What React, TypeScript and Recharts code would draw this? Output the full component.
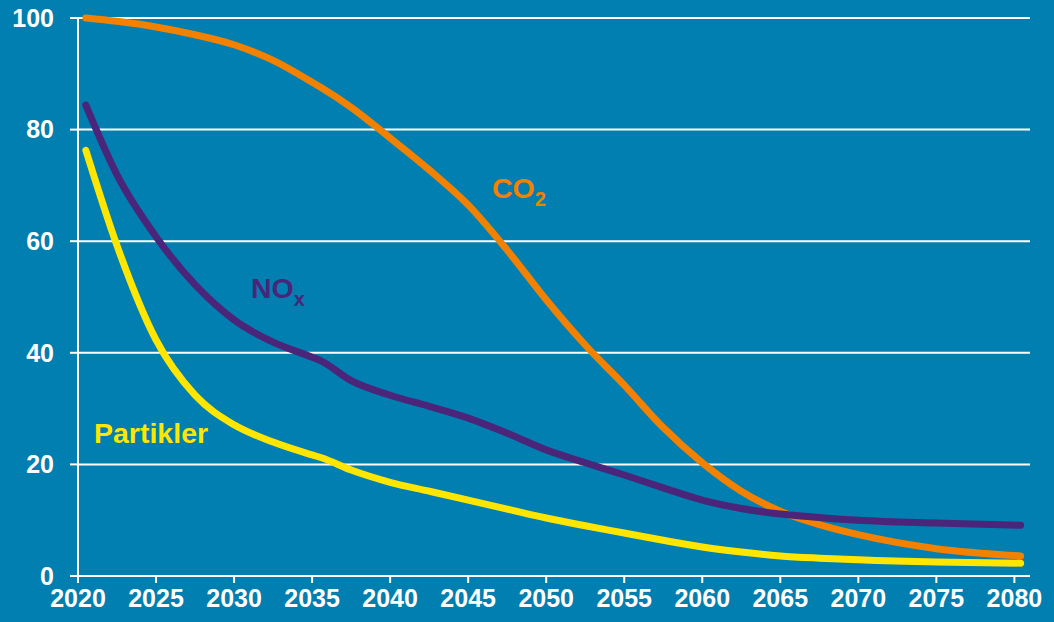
import { LineChart, Line, XAxis, YAxis, CartesianGrid } from "recharts"

const years = [2020.5, 2022.5, 2025, 2027.5, 2030, 2032.5, 2035, 2035.6, 2037.5, 2040, 2042.5, 2045, 2047.5, 2050, 2052.5, 2055, 2057.5, 2060, 2062.5, 2065, 2067.5, 2070, 2075, 2080.4]
const co2 = [100, 99.4, 98.4, 97, 95.2, 92.4, 88.5, 87.5, 84, 78.5, 72.8, 66.5, 58.4, 49.5, 41.4, 34.2, 26.6, 20.3, 15.2, 11.6, 9.2, 7.4, 4.9, 3.6]
const nox = [84.4, 71.9, 60.8, 52.2, 45.9, 41.9, 39.2, 38.5, 35, 32.4, 30.4, 28.3, 25.6, 22.6, 20.3, 18.1, 15.8, 13.6, 12.1, 11.1, 10.5, 10.0, 9.5, 9.1]
const partikler = [76.3, 59.2, 42.3, 32.4, 27.1, 24, 21.7, 21.2, 19, 16.8, 15.2, 13.6, 12, 10.4, 9, 7.7, 6.4, 5.2, 4.3, 3.6, 3.2, 2.9, 2.5, 2.3]
const xTicks = [2020, 2025, 2030, 2035, 2040, 2045, 2050, 2055, 2060, 2065, 2070, 2075, 2080]
const yTicks = [0, 20, 40, 60, 80, 100]

const data = years.map((y, i) => ({ year: y, co2: co2[i], nox: nox[i], partikler: partikler[i] }))

const BG = "#007FB0"
const ORANGE = "#F28100"
const PURPLE = "#4A2579"
const YELLOW = "#FFE600"
const FONT = "'Liberation Sans', Arial, sans-serif"

export default function App() {
  const tick = { fill: "#fff", fontSize: 25, fontWeight: 700, fontFamily: FONT }
  return (
    <div style={{ position: "absolute", left: 0, top: 0, width: 1054, height: 622, background: BG }}>
      <LineChart width={1054} height={622} data={data} margin={{ top: 18, right: 24, left: 0, bottom: 0 }}>
        <CartesianGrid vertical={false} stroke="#fff" strokeWidth={2} />
        <XAxis
          dataKey="year"
          type="number"
          domain={[2020, 2081]}
          ticks={xTicks}
          interval={0}
          height={46}
          stroke="#fff"
          strokeWidth={2}
          tickSize={7}
          tickMargin={6}
          tick={tick}
          allowDataOverflow
        />
        <YAxis
          domain={[0, 100]}
          ticks={yTicks}
          width={78}
          stroke="#fff"
          strokeWidth={2}
          tickSize={8}
          tickMargin={16}
          tick={tick}
        />
        <Line type="monotone" dataKey="co2" stroke={ORANGE} strokeWidth={7} strokeLinecap="round" dot={false} isAnimationActive={false} />
        <Line type="monotone" dataKey="nox" stroke={PURPLE} strokeWidth={7} strokeLinecap="round" dot={false} isAnimationActive={false} />
        <Line type="monotone" dataKey="partikler" stroke={YELLOW} strokeWidth={7} strokeLinecap="round" dot={false} isAnimationActive={false} />
      </LineChart>
      <svg width={1054} height={622} style={{ position: "absolute", left: 0, top: 0, pointerEvents: "none" }}>
        <text x={492} y={198} fill={ORANGE} fontSize={28.5} fontWeight={700} fontFamily={FONT}>
          CO<tspan fontSize={20} dy={8}>2</tspan>
        </text>
        <text x={251} y={298} fill={PURPLE} fontSize={28.5} fontWeight={700} fontFamily={FONT}>
          NO<tspan fontSize={20} dy={8}>x</tspan>
        </text>
        <text x={94} y={443} fill={YELLOW} fontSize={28.5} fontWeight={700} fontFamily={FONT}>
          Partikler
        </text>
      </svg>
    </div>
  )
}
